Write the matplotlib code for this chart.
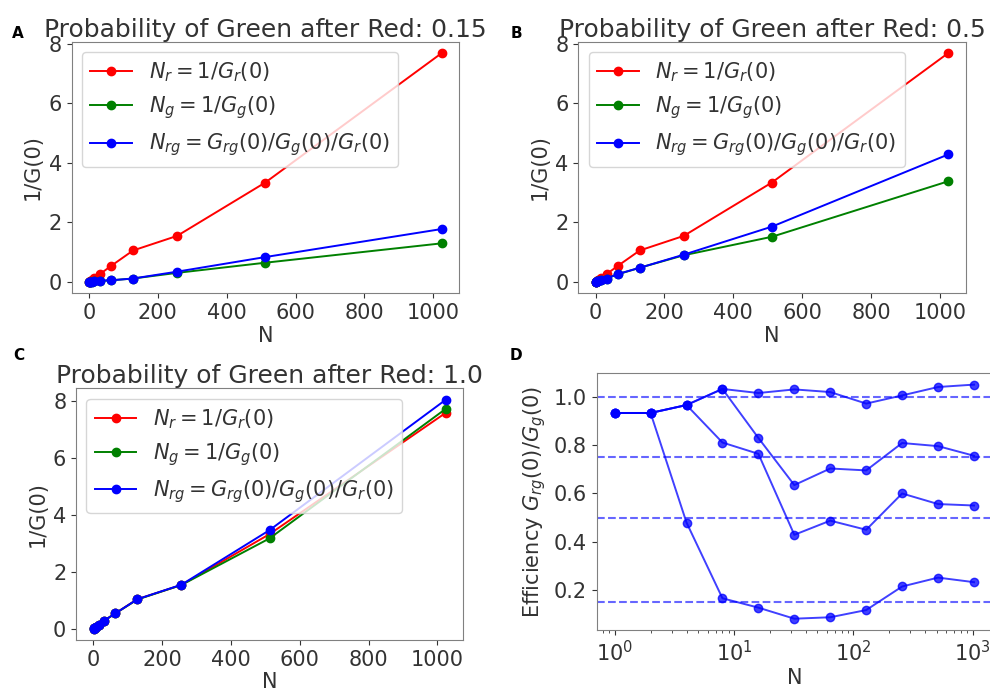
import matplotlib.pyplot as plt
import numpy as np

# number of sites
N = [1, 2, 4, 8, 16, 32, 64, 128, 256, 512, 1024]

# panel A, p = 0.15
red_a = [0.008, 0.015, 0.03, 0.06, 0.13, 0.27, 0.54, 1.06, 1.55, 3.34, 7.68]
green_a = [0.008, 0.012, 0.02, 0.02, 0.03, 0.04, 0.06, 0.12, 0.31, 0.65, 1.30]
blue_a = [0.008, 0.012, 0.02, 0.02, 0.03, 0.05, 0.06, 0.12, 0.35, 0.84, 1.78]

# panel B, p = 0.5
red_b = [0.008, 0.015, 0.03, 0.06, 0.13, 0.27, 0.54, 1.06, 1.55, 3.34, 7.68]
green_b = [0.008, 0.015, 0.03, 0.05, 0.07, 0.12, 0.26, 0.48, 0.90, 1.52, 3.38]
blue_b = [0.008, 0.015, 0.03, 0.05, 0.07, 0.12, 0.27, 0.48, 0.92, 1.86, 4.28]

# panel C, p = 1.0
red_c = [0.008, 0.015, 0.03, 0.07, 0.14, 0.29, 0.54, 1.04, 1.54, 3.33, 7.60]
green_c = [0.008, 0.015, 0.03, 0.07, 0.14, 0.29, 0.54, 1.03, 1.54, 3.18, 7.74]
blue_c = [0.008, 0.015, 0.03, 0.07, 0.14, 0.29, 0.54, 1.04, 1.55, 3.47, 8.06]

# panel D, efficiency
eff_100 = [0.935, 0.935, 0.968, 1.035, 1.018, 1.033, 1.022, 0.974, 1.008, 1.043, 1.053]
eff_075 = [0.935, 0.935, 0.968, 1.035, 0.831, 0.635, 0.704, 0.696, 0.810, 0.797, 0.757]
eff_050 = [0.935, 0.935, 0.968, 0.812, 0.765, 0.428, 0.487, 0.449, 0.600, 0.556, 0.550]
eff_015 = [0.935, 0.935, 0.479, 0.164, 0.125, 0.079, 0.085, 0.115, 0.213, 0.250, 0.231]
levels = [1.0, 0.75, 0.5, 0.15]

plt.rcParams['text.color'] = '#333333'
plt.rcParams['axes.labelcolor'] = '#333333'
plt.rcParams['xtick.color'] = '#333333'
plt.rcParams['ytick.color'] = '#333333'
plt.rcParams['axes.edgecolor'] = '#808080'

fs = 15
fig = plt.figure(figsize=(9.9, 6.88), dpi=100)

legend_labels = [r'$N_r = 1/G_r(0)$', r'$N_g = 1/G_g(0)$',
                 r'$N_{rg} = G_{rg}(0)/G_g(0)/G_r(0)$']


def linear_panel(rect, red, green, blue, title):
    ax = fig.add_axes(rect)
    ax.plot(N, red, '-o', color='red', lw=1.4, ms=6, label=legend_labels[0])
    ax.plot(N, green, '-o', color='green', lw=1.4, ms=6, label=legend_labels[1])
    ax.plot(N, blue, '-o', color='blue', lw=1.4, ms=6, label=legend_labels[2])
    ax.set_xticks([0, 200, 400, 600, 800, 1000])
    ax.set_yticks([0, 2, 4, 6, 8])
    ax.tick_params(labelsize=fs)
    ax.set_title(title, fontsize=18, pad=3)
    ax.set_xlabel('N', fontsize=fs, labelpad=2)
    ax.set_ylabel('1/G(0)', fontsize=fs)
    ax.legend(loc='upper left', fontsize=15, framealpha=0.8)
    return ax


linear_panel([0.0724, 0.5737, 0.3915, 0.3657], red_a, green_a, blue_a,
             'Probability of Green after Red: 0.15')
linear_panel([0.5842, 0.5737, 0.3913, 0.3657], red_b, green_b, blue_b,
             'Probability of Green after Red: 0.5')
linear_panel([0.0768, 0.0698, 0.3912, 0.3658], red_c, green_c, blue_c,
             'Probability of Green after Red: 1.0')

ax = fig.add_axes([0.6027, 0.0843, 0.3993, 0.3731])
for eff in [eff_100, eff_075, eff_050, eff_015]:
    ax.plot(N, eff, '-o', color='blue', lw=1.4, ms=6, alpha=0.75)
for lev in levels:
    ax.axhline(lev, color='blue', ls='--', lw=1.5, alpha=0.6)
ax.set_xscale('log')
ax.set_ylim(0.032, 1.10)
ax.set_yticks([0.2, 0.4, 0.6, 0.8, 1.0])
ax.tick_params(labelsize=fs)
ax.set_xlabel('N', fontsize=fs, labelpad=2)
ax.set_ylabel(r'Efficiency $G_{rg}(0)/G_g(0)$', fontsize=fs)

# panel letters
for lab, x, y in [('A', 18, 33), ('B', 516, 33), ('C', 19, 355), ('D', 516, 355)]:
    fig.text(x / 990, 1 - y / 688, lab, fontsize=11, fontweight='bold',
             color='black', ha='center', va='center')

fig.savefig('out.png', dpi=100)
